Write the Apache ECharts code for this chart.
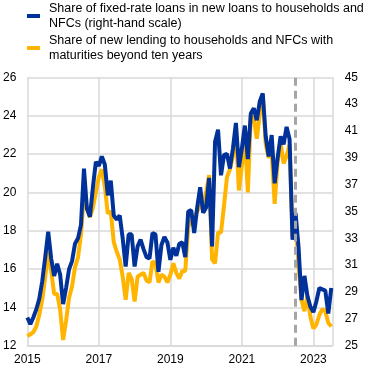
<!DOCTYPE html>
<html>
<head>
<meta charset="utf-8">
<script src="https://cdn.jsdelivr.net/npm/echarts@6/dist/echarts.min.js"></script>
<style>html,body{margin:0;padding:0;background:#fff}#c{width:372px;height:373px}</style>
</head>
<body>
<div id="c"></div>
<script>
// Monthly observations, Jan 2015 – Jul 2023
const startYear = 2015;
const fixedRateShare = [ // right-hand scale, %
27.1,26.6,27.1,27.7,28.5,29.8,31.6,33.5,31.5,30.2,31.1,30.3,
28.1,29.3,30.7,31.3,32.6,33.0,34.0,38.2,35.2,34.6,36.8,38.7,
38.4,39.1,38.5,36.2,37.3,34.7,34.4,34.7,33.0,30.9,33.3,33.3,
30.9,32.4,32.9,32.2,31.6,31.5,33.4,33.3,30.5,32.5,33.1,32.7,
31.4,32.3,31.7,32.6,32.7,31.6,35.0,35.1,33.4,35.3,36.8,34.9,
35.3,37.5,32.4,40.2,41.1,37.7,39.2,39.3,38.2,39.7,41.6,38.3,
39.7,41.4,38.9,42.3,42.7,41.8,43.2,43.8,40.6,39.1,40.7,37.1,
39.0,40.6,40.0,41.3,40.4,32.9,34.9,32.4,28.4,30.2,28.7,27.9,
27.5,28.3,29.3,29.2,29.1,27.4,29.3
];
const longMaturityShare = [ // left-hand scale, %
12.5,12.6,12.7,13.0,13.6,14.4,15.6,16.9,15.9,14.7,14.7,13.9,
12.3,13.3,14.5,15.1,16.1,16.6,17.8,19.9,19.2,18.7,19.2,20.0,
20.8,21.2,20.3,18.9,19.0,17.4,16.9,16.5,15.6,14.4,15.8,15.5,
14.3,15.6,15.7,15.8,15.4,15.3,16.4,16.3,15.3,15.7,15.6,15.3,
15.7,16.3,15.8,15.5,15.9,15.9,18.2,18.5,18.7,19.0,19.3,19.4,
20.0,20.9,16.5,16.3,17.9,17.9,19.3,20.8,21.2,21.9,23.2,20.1,
21.4,23.0,20.0,24.0,23.9,22.8,24.1,25.1,22.5,21.8,22.1,19.4,
21.6,22.6,21.5,21.9,22.5,17.7,18.6,16.2,14.4,13.8,14.6,13.5,
12.9,13.1,13.6,13.9,13.8,13.2,13.0
];
const xTickLabels = [2015, 2017, 2019, 2021, 2023];
const leftTicks = [12, 14, 16, 18, 20, 22, 24, 26];
const rightTicks = [25, 27, 29, 31, 33, 35, 37, 39, 41, 43, 45];
const markerDate = 2022.5;
const seriesNames = [
  'Share of fixed-rate loans in new loans to households and\nNFCs (right-hand scale)',
  'Share of new lending to households and NFCs with\nmaturities beyond ten years'
];

const toPairs = arr => arr.map((v, i) => [startYear + i / 12, v]);
const font = '"Liberation Sans", Arial, sans-serif';
const gridColor = '#d9d9d9';

const chart = echarts.init(document.getElementById('c'));
chart.setOption({
  animation: false,
  textStyle: { fontFamily: font },
  legend: {
    orient: 'vertical', left: 27, top: 1, padding: 0, itemGap: 2,
    itemWidth: 13, itemHeight: 4, icon: 'rect',
    textStyle: { fontSize: 12.5, lineHeight: 15, color: '#000', fontFamily: font, padding: [0, 0, 0, 4] },
    data: seriesNames
  },
  grid: { left: 27.3, right: 39.3, top: 77.3, bottom: 27.3, containLabel: false },
  xAxis: {
    type: 'value', min: 2015, max: 2023.54, interval: 2,
    axisLine: { show: true, lineStyle: { color: gridColor, width: 1.5 } },
    axisTick: { show: false },
    splitLine: { show: true, lineStyle: { color: gridColor, width: 1.5 } },
    axisLabel: {
      color: '#000', fontSize: 12, margin: 8, fontFamily: font,
      showMaxLabel: false,
      formatter: v => xTickLabels.includes(Math.round(v)) && Math.abs(v - Math.round(v)) < 1e-6 ? String(Math.round(v)) : ''
    }
  },
  yAxis: [
    {
      type: 'value', min: leftTicks[0], max: leftTicks[leftTicks.length - 1], interval: 2,
      axisLine: { show: false }, axisTick: { show: false },
      splitLine: { show: true, lineStyle: { color: gridColor, width: 1.5 } },
      axisLabel: { color: '#000', fontSize: 12, margin: 11, fontFamily: font }
    },
    {
      type: 'value', min: rightTicks[0], max: rightTicks[rightTicks.length - 1], interval: 2,
      axisLine: { show: false }, axisTick: { show: false },
      splitLine: { show: false },
      axisLabel: { color: '#000', fontSize: 12, margin: 12, fontFamily: font }
    }
  ],
  series: [
    {
      name: seriesNames[0], type: 'line', yAxisIndex: 1, z: 4,
      data: toPairs(fixedRateShare), showSymbol: false, symbol: 'none',
      itemStyle: { color: '#003299' },
      lineStyle: { color: '#003299', width: 4 },
      markLine: {
        silent: true, symbol: 'none', label: { show: false },
        lineStyle: { color: '#a6a6a6', width: 3, type: [8, 5] },
        data: [{ xAxis: markerDate }]
      }
    },
    {
      name: seriesNames[1], type: 'line', yAxisIndex: 0, z: 3,
      data: toPairs(longMaturityShare), showSymbol: false, symbol: 'none',
      itemStyle: { color: '#ffb400' },
      lineStyle: { color: '#ffb400', width: 4 }
    }
  ]
});
</script>
</body>
</html>
